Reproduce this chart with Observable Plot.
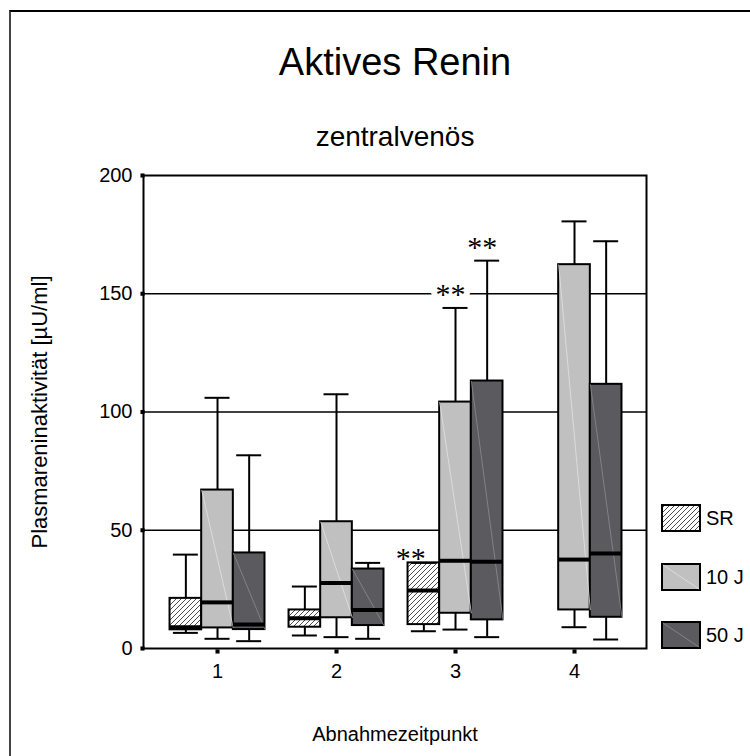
<!DOCTYPE html>
<html>
<head>
<meta charset="utf-8">
<script src="https://cdn.jsdelivr.net/npm/d3@7"></script>
<script src="https://cdn.jsdelivr.net/npm/@observablehq/plot@0.6"></script>
<style>
  body { margin: 0; background: #fff; }
  #wrap { position: relative; width: 750px; height: 756px; overflow: hidden;
          font-family: "Liberation Sans", Arial, sans-serif; }
  #wrap > svg { position: absolute; left: 0; top: 0; }
  #border { position: absolute; left: 9px; top: 10px; right: -10px; bottom: -10px;
            border-top: 2px solid #000; border-left: 2px solid #444; pointer-events: none; }
  .legend-item { position: absolute; left: 661px; display: flex; align-items: center;
                 font-size: 20px; color: #000; }
  .legend-item svg { margin-right: 4px; display: block; }
</style>
</head>
<body>
<div id="wrap"><div id="border"></div></div>
<script>
// Sampling time points on the x axis
const timepoints = [1, 2, 3, 4];
// Treatment groups
const groups = ["SR", "10 J", "50 J"];
// Box-plot summaries per time point: [lower whisker, Q1, median, Q3, upper whisker]
const sr  = [[6.6, 7.9, 9.0, 21.2, 39.7], [5.5, 9.0, 12.8, 16.3, 26.2], [7.3, 10.1, 24.5, 36.2, 36.2], null];
const j10 = [[4.1, 8.7, 19.5, 67.0, 106.0], [4.8, 13.0, 27.7, 53.6, 107.5], [8.0, 14.9, 37.1, 104.2, 144.0], [9.0, 16.3, 37.6, 162.3, 180.6]];
const j50 = [[3.1, 8.0, 10.1, 40.4, 81.7], [4.1, 9.7, 16.3, 33.6, 36.2], [4.8, 12.1, 36.7, 113.1, 164.0], [3.8, 13.2, 40.2, 111.7, 172.2]];
// Y axis ticks and horizontal reference lines
const yTicks = [0, 50, 100, 150, 200];
const gridLines = [50, 100, 150];
// Significant differences (group, time point) flagged with "**"
const marked = [["SR", 3], ["10 J", 3], ["50 J", 3]];

const fills = ["url(#hatch)", "#c0c0c0", "#5b5b5f"];

// Flatten into one row per box
const rows = [];
[sr, j10, j50].forEach((series, gi) => {
  series.forEach((v, ti) => {
    if (!v) return;
    const [lo, q1, med, q3, hi] = v;
    rows.push({t: timepoints[ti], group: groups[gi], slot: gi - 1, lo, q1, med, q3, hi});
  });
});

const BOX = 0.266;   // box width in x units
const CAP = 0.105;   // half-width of whisker caps
const xc = d => d.t + d.slot * BOX;
const xl = d => xc(d) - BOX / 2;
const xr = d => xc(d) + BOX / 2;

const starred = rows.filter(d => marked.some(([g, t]) => g === d.group && t === d.t));
// SR has no whisker above its box, so its stars sit lower and further left
const starsSR = starred.filter(d => d.group === "SR");
const starsOther = starred.filter(d => d.group !== "SR");
const starStyle = {text: () => "**", fontFamily: "Liberation Serif, Times New Roman, serif",
                   fontSize: 30, lineAnchor: "bottom", fill: "black", stroke: "white", strokeWidth: 12};

const chart = Plot.plot({
  width: 750,
  height: 756,
  marginLeft: 143,
  marginRight: 104,
  marginTop: 175,
  marginBottom: 108,
  x: {domain: [0.378, 4.605], label: null},
  y: {domain: [0, 200], label: null},
  color: {domain: groups, range: fills},
  style: {background: "transparent", fontFamily: "Liberation Sans, Arial, sans-serif", fontSize: "20px", color: "black", overflow: "visible"},
  marks: [
    Plot.ruleY(gridLines, {stroke: "black", strokeWidth: 1.5}),
    Plot.frame({stroke: "black", strokeWidth: 2}),
    Plot.axisY({ticks: yTicks, tickSize: 0, tickPadding: 11, fontSize: 20}),
    Plot.axisX({ticks: timepoints, tickSize: 0, tickPadding: 15, tickFormat: d => String(d), fontSize: 20}),
    Plot.dot(yTicks, {y: d => d, frameAnchor: "left", symbol: "square", r: 2.3, fill: "black", dx: -1}),
    Plot.dot(timepoints, {x: d => d, frameAnchor: "bottom", symbol: "square", r: 2.3, fill: "black", dy: 3}),
    Plot.text(starsOther, {...starStyle, x: xc, y: "hi", dx: -5, dy: -4}),
    Plot.text(starsSR, {...starStyle, x: xc, y: "hi", dx: -13, dy: 5}),
    Plot.rect(rows, {x1: xl, x2: xr, y1: "q1", y2: "q3", fill: "group", stroke: "black", strokeWidth: 2}),
    Plot.link(rows.filter(d => d.group !== "SR"), {x1: xl, y1: "q3", x2: xr, y2: "q1",
      stroke: d => d.group === "10 J" ? "#e2e2e2" : "#8c8c91", strokeWidth: 0.8}),
    Plot.ruleY(rows, {y: "med", x1: xl, x2: xr, stroke: "black", strokeWidth: 4}),
    Plot.ruleX(rows, {x: xc, y1: "q3", y2: "hi", stroke: "black", strokeWidth: 2}),
    Plot.ruleX(rows, {x: xc, y1: "lo", y2: "q1", stroke: "black", strokeWidth: 2}),
    Plot.ruleY(rows, {y: "hi", x1: d => xc(d) - CAP, x2: d => xc(d) + CAP, stroke: "black", strokeWidth: 2}),
    Plot.ruleY(rows, {y: "lo", x1: d => xc(d) - CAP, x2: d => xc(d) + CAP, stroke: "black", strokeWidth: 2}),
    Plot.text(["Aktives Renin"], {text: d => d, frameAnchor: "top", lineAnchor: "middle", dy: -113, fontSize: 38}),
    Plot.text(["zentralvenös"], {text: d => d, frameAnchor: "top", lineAnchor: "middle", dy: -38, fontSize: 28}),
    Plot.text(["Abnahmezeitpunkt"], {text: d => d, frameAnchor: "bottom", lineAnchor: "middle", dy: 85.6, fontSize: 20}),
    Plot.text(["Plasmareninaktivität [µU/ml]"], {text: d => d, frameAnchor: "left", textAnchor: "middle",
      lineAnchor: "middle", rotate: -90, dx: -104, fontSize: 22})
  ]
});

// Diagonal hatching used for the SR boxes
d3.select(chart).insert("defs", ":first-child").html(
  `<pattern id="hatch" width="5" height="5" patternUnits="userSpaceOnUse">
     <rect width="5" height="5" fill="#fff"></rect>
     <path d="M-1,1 l2,-2 M0,5 l5,-5 M4,6 l2,-2" stroke="#000" stroke-width="0.7"></path>
   </pattern>`);

const wrap = document.getElementById("wrap");
wrap.insertBefore(chart, wrap.firstChild);

// Legend to the right of the plot frame
const legendTops = [504, 563, 621];
groups.forEach((g, i) => {
  const item = d3.select(wrap).append("div").attr("class", "legend-item").style("top", legendTops[i] + "px");
  const sw = item.append("svg").attr("width", 41).attr("height", 28);
  sw.append("rect").attr("x", 1).attr("y", 1).attr("width", 38).attr("height", 26)
    .attr("fill", fills[i]).attr("stroke", "#000").attr("stroke-width", 2);
  if (i > 0) {
    sw.append("line").attr("x1", 2).attr("y1", 2).attr("x2", 38).attr("y2", 26)
      .attr("stroke", i === 1 ? "#e2e2e2" : "#8c8c91").attr("stroke-width", 0.8);
  }
  item.append("span").text(g);
});
</script>
</body>
</html>
